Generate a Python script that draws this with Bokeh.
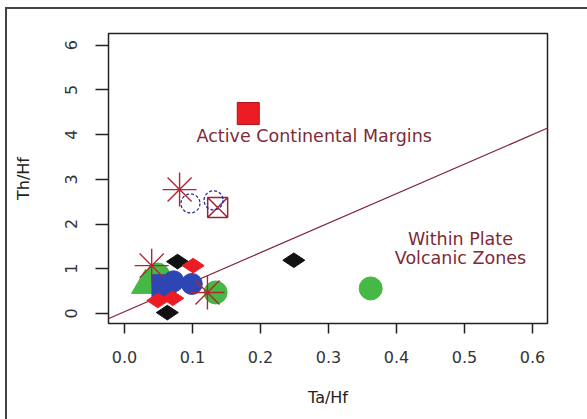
import math
from bokeh.plotting import figure
from bokeh.models import Range1d, Label, FixedTicker, InlineStyleSheet
from bokeh.embed import file_html
from bokeh.resources import INLINE

# ---- data ----
x_ticks = [0.0, 0.1, 0.2, 0.3, 0.4, 0.5, 0.6]
y_ticks = [0, 1, 2, 3, 4, 5, 6]

boundary_x = [-0.05, 0.65]
boundary_y = [-0.29, 4.33]

black_dia_x = [0.078, 0.063, 0.249]
black_dia_y = [1.16, 0.02, 1.19]
red_dia_x = [0.101, 0.049, 0.071]
red_dia_y = [1.07, 0.29, 0.34]
green_tri_x = [0.031]
green_tri_y = [0.63]
green_circ_x = [0.049, 0.134, 0.362]
green_circ_y = [0.87, 0.47, 0.56]
blue_sq_x = [0.058]
blue_sq_y = [0.60]
blue_circ_x = [0.072, 0.099]
blue_circ_y = [0.72, 0.66]
red_ast_x = [0.081, 0.040, 0.122]
red_ast_y = [2.77, 1.07, 0.47]
blue_open_x = [0.097, 0.131]
blue_open_y = [2.46, 2.53]
cross_sq_x = [0.137]
cross_sq_y = [2.37]
red_sq_x = [0.182]
red_sq_y = [4.47]

region_labels = ["Active Continental Margins", "Within Plate", "Volcanic Zones"]
region_x = [0.279, 0.494, 0.494]
region_y = [3.96, 1.66, 1.23]

FONT = "DejaVu Sans"
MAROON = "#7e2a38"
RED = "#ec1c24"
GREEN = "#45b845"
BLUE = "#2d46b4"

frame_css = InlineStyleSheet(css="""
:host::after {
  content: "";
  position: absolute;
  left: 5px; top: 7px; width: 700px; height: 700px;
  border-left: 2px solid #444444;
  border-top: 2px solid #444444;
  pointer-events: none;
  box-sizing: border-box;
}
""")

p = figure(width=587, height=419, output_backend="svg", toolbar_location=None,
           x_range=Range1d(-0.0235, 0.622), y_range=Range1d(-0.224, 6.26),
           min_border_left=108, min_border_right=40, min_border_top=33,
           min_border_bottom=96, stylesheets=[frame_css])
p.background_fill_color = "white"
p.border_fill_color = "white"
p.outline_line_color = "#222222"
p.outline_line_width = 1.5
p.xgrid.visible = False
p.ygrid.visible = False

for ax, ticks, tick_len, lbl in ((p.xaxis[0], x_ticks, 10, "Ta/Hf"),
                                 (p.yaxis[0], y_ticks, 13, "Th/Hf")):
    ax.ticker = FixedTicker(ticks=ticks)
    ax.axis_line_color = None
    ax.major_tick_line_color = "#222222"
    ax.major_tick_line_width = 1.5
    ax.major_tick_out = tick_len
    ax.major_tick_in = 0
    ax.minor_tick_line_color = None
    ax.major_label_text_font = FONT
    ax.major_label_text_font_size = "16px"
    ax.major_label_text_color = "#333333"
    ax.axis_label = lbl
    ax.axis_label_text_font = FONT
    ax.axis_label_text_font_size = "16px"
    ax.axis_label_text_font_style = "normal"
    ax.axis_label_text_color = "#222222"

p.xaxis[0].major_label_standoff = 17
p.xaxis[0].axis_label_standoff = 22
p.yaxis[0].major_label_orientation = "vertical"
p.yaxis[0].major_label_standoff = 18
p.yaxis[0].axis_label_standoff = 30
p.xaxis[0].major_label_overrides = {t: f"{t:.1f}" for t in x_ticks}

# boundary line
p.line(boundary_x, boundary_y, line_color=MAROON, line_width=1.2)

# markers
p.scatter(green_tri_x, green_tri_y, marker="triangle", size=28,
          fill_color=GREEN, line_color=GREEN)
p.scatter(green_circ_x, green_circ_y, marker="circle", size=23,
          fill_color=GREEN, line_color=GREEN)
p.scatter(blue_sq_x, blue_sq_y, marker="square", size=24,
          fill_color=BLUE, line_color=BLUE)
p.scatter(blue_circ_x, blue_circ_y, marker="circle", size=21,
          fill_color=BLUE, line_color=BLUE)
p.scatter(black_dia_x, black_dia_y, marker="diamond", size=22, angle=math.pi / 2,
          fill_color="#111111", line_color="#111111")
p.scatter(red_dia_x, red_dia_y, marker="diamond", size=22, angle=math.pi / 2,
          fill_color=RED, line_color=RED)
p.scatter(cross_sq_x, cross_sq_y, marker="square_x", size=20,
          fill_color=None, line_color="#9a2535", line_width=1.5)
p.scatter(blue_open_x, blue_open_y, marker="circle", size=19,
          fill_color=None, line_color="#2a2e9a", line_width=1.3, line_dash="3 2")
p.scatter(red_sq_x, red_sq_y, marker="square", size=22,
          fill_color=RED, line_color="#b01018")
p.scatter(red_ast_x, red_ast_y, marker="asterisk", size=34,
          line_color="#b0272f", line_width=1.4)

for t, x, y in zip(region_labels, region_x, region_y):
    p.add_layout(Label(x=x, y=y, text=t, text_align="center",
                       text_baseline="middle", text_font=FONT,
                       text_font_size="17.5px", text_color=MAROON))

open("out.html", "w").write(file_html(p, INLINE))
